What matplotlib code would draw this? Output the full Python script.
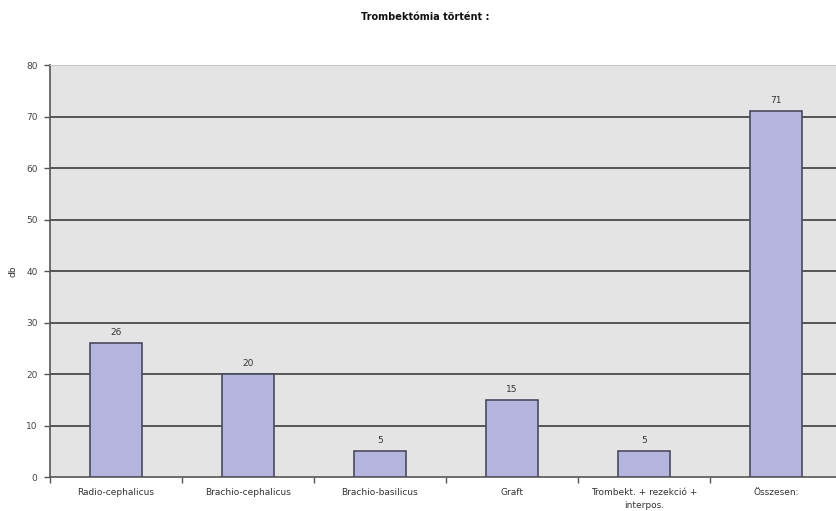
import matplotlib.pyplot as plt
import numpy as np

categories = ["Radio-cephalicus", "Brachio-cephalicus", "Brachio-basilicus", "Graft",
              "Trombekt. + rezekció +\ninterpos.", "Összesen:"]
values = [26, 20, 5, 15, 5, 71]
yticks = [0, 10, 20, 30, 40, 50, 60, 70, 80]

fig = plt.figure(figsize=(8.36, 5.11), dpi=100)
ax = fig.add_axes([50 / 836, 34 / 511, 792 / 836, 412 / 511])
ax.set_facecolor("#e4e4e4")

x = np.arange(len(categories))
ax.bar(x, values, width=0.4, color="#b4b4dc", edgecolor="#4a4a60", linewidth=1.2, zorder=3)
for xi, v in zip(x, values):
    ax.text(xi, v + 1.2, str(v), ha="center", va="bottom", fontsize=6.5, color="#333333")

ax.set_xlim(-0.5, len(categories) - 0.5)
ax.set_ylim(0, 80)
ax.set_yticks(yticks)
ax.set_xticks(np.arange(len(categories) + 1) - 0.5, minor=True)
ax.set_xticks(x)
ax.set_xticklabels(categories, fontsize=6.5, color="#333333", linespacing=1.5)
ax.tick_params(axis="x", which="major", length=0, pad=8)
ax.tick_params(axis="x", which="minor", length=4, color="#555555", width=1)
ax.tick_params(axis="y", length=4, color="#555555", width=1, labelsize=6.5,
               labelcolor="#444444", pad=5)

for y in yticks[1:-1]:
    ax.axhline(y, color="#555555", linewidth=1.4, zorder=1)

for s in ["top", "right"]:
    ax.spines[s].set_color("#c8c8c8")
ax.spines["left"].set_color("#555555")
ax.spines["bottom"].set_color("#555555")
ax.spines["left"].set_linewidth(1.2)
ax.spines["bottom"].set_linewidth(1.2)

ax.set_ylabel("db", fontsize=6.5, color="#333333", labelpad=6)
fig.text(425 / 836, 1 - 17 / 511, "Trombektómia történt :", ha="center", va="center",
         fontsize=7, fontweight="bold", color="#111111")

fig.savefig("out.png", dpi=100, facecolor="white")
